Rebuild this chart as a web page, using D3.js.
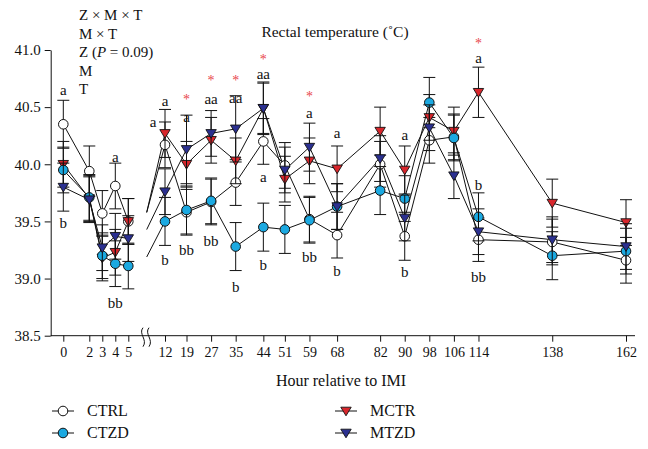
<!DOCTYPE html>
<html><head><meta charset="utf-8">
<script src="https://cdn.jsdelivr.net/npm/d3@7"></script>
<style>body{margin:0;background:#fff} svg{display:block} svg text{font-family:"Liberation Serif","DejaVu Serif","Noto Serif",serif;}</style>
</head><body><svg id="c" width="648" height="449"></svg>
<script>
const hours = [0,2,3,4,5,12,19,27,35,44,51,59,68,82,90,98,106,114,138,162];
const CTRL = [40.35,39.94,39.57,39.81,39.50,40.17,39.58,39.67,39.84,40.20,39.99,39.52,39.38,40.00,39.37,40.21,40.24,39.34,39.32,39.16];
const CTZD = [39.95,39.71,39.20,39.13,39.11,39.50,39.60,39.68,39.28,39.45,39.43,39.51,39.63,39.77,39.70,40.54,40.23,39.54,39.20,39.24];
const MCTR = [40.00,39.70,39.18,39.23,39.50,40.27,40.00,40.21,40.03,40.49,39.87,40.03,39.96,40.29,39.95,40.41,40.29,40.63,39.66,39.49];
const MTZD = [39.80,39.69,39.27,39.37,39.35,39.76,40.13,40.27,40.31,40.49,39.95,40.15,39.63,40.05,39.53,40.32,39.90,39.41,39.34,39.28];
const CTRL_se = [0.21,0.22,0.20,0.20,0.20,0.20,0.20,0.20,0.20,0.20,0.20,0.20,0.20,0.20,0.21,0.20,0.20,0.19,0.20,0.20];
const CTZD_se = [0.20,0.20,0.20,0.20,0.20,0.21,0.21,0.20,0.21,0.21,0.21,0.20,0.20,0.21,0.20,0.22,0.20,0.21,0.21,0.20];
const MCTR_se = [0.20,0.20,0.20,0.20,0.20,0.21,0.20,0.20,0.20,0.22,0.20,0.20,0.20,0.21,0.21,0.20,0.21,0.22,0.21,0.20];
const MTZD_se = [0.21,0.20,0.20,0.20,0.20,0.20,0.30,0.20,0.29,0.23,0.20,0.21,0.20,0.20,0.20,0.20,0.20,0.20,0.20,0.20];
const yTicks = [38.5,39.0,39.5,40.0,40.5,41.0];
const statLines = ["Z × M × T","M × T","Z (P = 0.09)","M","T"];
// annotation labels: hour, text, value level
const labHours = [0,0,4,4,12,12,12,19,19,19,27,27,27,35,35,35,44,44,44,44,59,59,59,68,68,90,90,114,114,114,114];
const labTexts = ["a","b","a","bb","a","a","b","*","a","bb","*","aa","bb","*","aa","b","*","aa","a","b","*","a","bb","a","b","a","b","*","a","b","bb"];
const labLevels = [40.65,39.49,40.06,38.79,40.37,40.55,39.16,40.60,40.41,39.25,40.76,40.57,39.33,40.76,40.58,38.93,40.95,40.79,39.89,39.12,40.62,40.45,39.19,40.27,39.07,40.26,39.06,41.09,40.93,39.82,39.01];
const labShift = [0,0,0,0,-12,0,0,0,0,0,0,0,0,0,0,0,0,0,0,0,0,0,0,0,0,0,0,0,0,0,0];

const series = [
  {name:"CTRL", v:CTRL, se:CTRL_se, shape:"circle", fill:"#ffffff"},
  {name:"MCTR", v:MCTR, se:MCTR_se, shape:"tri", fill:"#d8262c"},
  {name:"CTZD", v:CTZD, se:CTZD_se, shape:"circle", fill:"#1ba9e1"},
  {name:"MTZD", v:MTZD, se:MTZD_se, shape:"tri", fill:"#2b3090"}
];
const svg = d3.select("#c");
const x = d3.scaleLinear().domain([0,5,12,162]).range([63.3,128.3,165,626]);
const y = d3.scaleLinear().domain([38.5,41]).range([335.7,50]);
const axX = 50.7;

// y axis
const ya = svg.append("g").attr("transform",`translate(${axX},0)`)
  .call(d3.axisLeft(y).tickValues(yTicks).tickFormat(d3.format(".1f")).tickSize(6).tickSizeOuter(0).tickPadding(4));
ya.attr("font-family",null);
ya.selectAll("text").attr("font-size",15).attr("fill","#111");
ya.selectAll("line,path").attr("stroke","#111");
// x axis
const xa = svg.append("g").attr("transform",`translate(0,${y(38.5)})`)
  .call(d3.axisBottom(x).tickValues(hours).tickFormat(d3.format("d")).tickSize(6).tickSizeOuter(0).tickPadding(5));
xa.attr("font-family",null);
xa.select(".domain").remove();
xa.selectAll("text").attr("font-size",14).attr("fill","#111");
xa.selectAll("line").attr("stroke","#111");
svg.append("line").attr("x1",axX).attr("x2",635).attr("y1",y(38.5)).attr("y2",y(38.5)).attr("stroke","#111");
// break symbol
[143,149].forEach(bx=>{
  svg.append("path").attr("d",`M${bx},${y(38.5)-8} C${bx-5},${y(38.5)-2} ${bx+5},${y(38.5)+4} ${bx},${y(38.5)+11}`)
    .attr("fill","none").attr("stroke","#111").attr("stroke-width",1);
});

// lines
const line = d3.line().x(d=>x(d[0])).y(d=>y(d[1]));
const breakX = 146.7;
series.forEach(s=>{
  const pts = hours.map((h,i)=>[h,s.v[i]]);
  svg.append("path").attr("d",line(pts.slice(0,5))).attr("fill","none").attr("stroke","#111").attr("stroke-width",1);
  svg.append("path").attr("d",line(pts.slice(5))).attr("fill","none").attr("stroke","#111").attr("stroke-width",1);
  svg.append("line").attr("x1",breakX).attr("y1",y(s.v[4])-9).attr("x2",x(12)).attr("y2",y(s.v[5]))
    .attr("stroke","#111").attr("stroke-width",1);
});
// error bars + markers
series.forEach(s=>{
  const g = svg.append("g");
  hours.forEach((h,i)=>{
    const cx = x(h), t = y(s.v[i]+s.se[i]), b = y(s.v[i]-s.se[i]);
    g.append("line").attr("x1",cx).attr("x2",cx).attr("y1",t).attr("y2",b).attr("stroke","#111");
    [t,b].forEach(yy=>g.append("line").attr("x1",cx-6).attr("x2",cx+6).attr("y1",yy).attr("y2",yy).attr("stroke","#111"));
  });
  hours.forEach((h,i)=>{
    const cx = x(h), cy = y(s.v[i]);
    if(s.shape==="circle") g.append("circle").attr("cx",cx).attr("cy",cy).attr("r",4.8).attr("fill",s.fill).attr("stroke","#111");
    else g.append("path").attr("d",`M${cx-5.2},${cy-3.8} L${cx+5.2},${cy-3.8} L${cx},${cy+4.8} Z`).attr("fill",s.fill).attr("stroke","#111").attr("stroke-width",0.9);
  });
});
// annotations
labHours.forEach((h,i)=>{
  const star = labTexts[i]==="*";
  svg.append("text").attr("x",x(h)+labShift[i]).attr("y",y(labLevels[i])+(star?8:5))
    .attr("text-anchor","middle").attr("font-size",star?14:15)
    .attr("fill",star?"#e8464b":"#111").text(labTexts[i]);
});
// stats text
statLines.forEach((t,i)=>{
  const tx = svg.append("text").attr("x",79).attr("y",20+i*18.5).attr("font-size",15).attr("fill","#111");
  if(t.includes("P")){
    tx.append("tspan").text("Z (");
    tx.append("tspan").attr("font-style","italic").text("P");
    tx.append("tspan").text(" = 0.09)");
  } else tx.text(t);
});
// title
svg.append("text").attr("x",335).attr("y",36.5).attr("text-anchor","middle").attr("font-size",15.5).attr("fill","#111").text("Rectal temperature (˚C)");
// x label
svg.append("text").attr("x",341).attr("y",386).attr("text-anchor","middle").attr("font-size",16).attr("fill","#111").text("Hour relative to IMI");
// legend
const legX = [63,346], legY = [411,433];
const legOrder = [["CTRL",0,0,"circle","#ffffff"],["CTZD",0,1,"circle","#1ba9e1"],["MCTR",1,0,"tri","#d8262c"],["MTZD",1,1,"tri","#2b3090"]];
legOrder.forEach(([n,c,r,sh,f])=>{
  const cx = legX[c], cy = legY[r];
  svg.append("line").attr("x1",cx-11).attr("x2",cx+11).attr("y1",cy).attr("y2",cy).attr("stroke","#111");
  if(sh==="circle") svg.append("circle").attr("cx",cx).attr("cy",cy).attr("r",4.8).attr("fill",f).attr("stroke","#111");
  else svg.append("path").attr("d",`M${cx-5.2},${cy-3.8} L${cx+5.2},${cy-3.8} L${cx},${cy+4.8} Z`).attr("fill",f).attr("stroke","#111").attr("stroke-width",0.9);
  svg.append("text").attr("x",cx+24).attr("y",cy+5).attr("font-size",16).attr("fill","#111").text(n);
});
</script></body></html>
